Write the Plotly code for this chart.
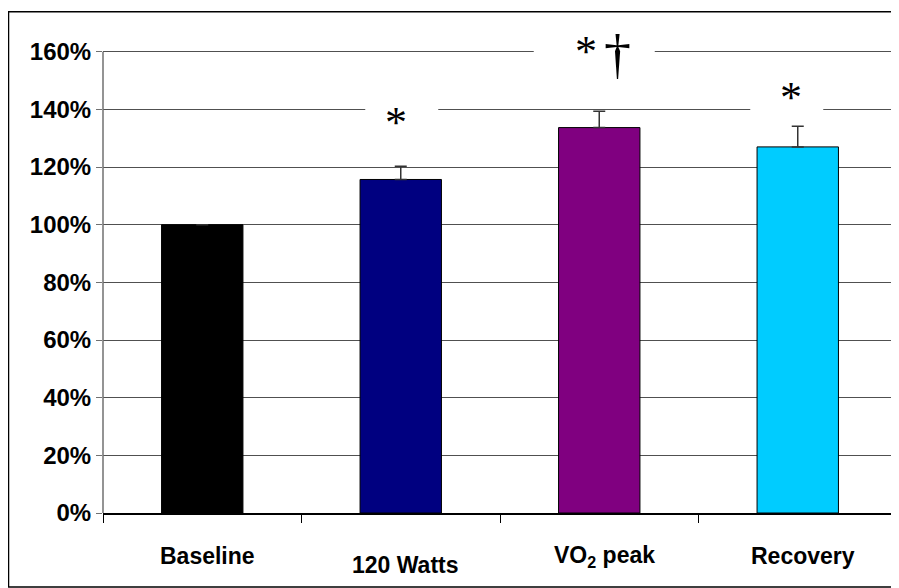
import plotly.graph_objects as go

categories = ["Baseline", "120 Watts", "VO2 peak", "Recovery"]
category_labels = ["Baseline", "120 Watts", "VO<sub>2</sub> peak", "Recovery"]
values = [100.0, 115.7, 133.7, 127.0]
errors_plus = [None, 4.6, 5.7, 7.2]
bar_colors = ["#000000", "#000080", "#800080", "#00CCFF"]
y_ticks = [0, 20, 40, 60, 80, 100, 120, 140, 160]
y_tick_labels = [f"{v}%" for v in y_ticks]
# significance markers: (category, text, level %, font size, x offset px)
sig_marks = [
    ("120 Watts", "*", 135.6, 44, -5),
    ("VO2 peak", "*", 160.0, 44, -13),
    ("VO2 peak", "†", 158.9, 54, 18),
    ("Recovery", "*", 144.2, 44, -7),
]
# white gaps cut into gridlines behind the markers: (category, level %, width px, x offset px)
gap_boxes = [
    ("120 Watts", 140, 73, 1),
    ("VO2 peak", 160, 121, -5),
    ("Recovery", 140, 73, -11),
]

W, H = 891, 580  # page body adds an 8px offset
Y_TOP = 160          # top gridline
Y_RANGE_MAX = 162    # a little headroom so the top gridline is drawn
PX_PER_UNIT = 461 / Y_TOP
B_MARGIN = 75
T_MARGIN = H - B_MARGIN - PX_PER_UNIT * Y_RANGE_MAX
ANCHOR = 150  # annotations anchored inside the range, then shifted in pixels

fig = go.Figure()
fig.add_trace(go.Bar(
    x=categories, y=values,
    marker=dict(color=bar_colors, line=dict(color="#000000", width=1)),
    width=0.41,
    error_y=dict(type="data", symmetric=False, array=errors_plus,
                 arrayminus=[0, 0, 0, 0], color="#333333", thickness=1.5, width=6),
    showlegend=False,
))

annotations = []
for cat, lab in zip(categories, category_labels):
    shift = -52 if cat == "120 Watts" else -43
    annotations.append(dict(
        x=cat, xref="x", y=0, yref="paper", yanchor="middle", yshift=shift, xshift=5,
        text=f"<b>{lab}</b>", showarrow=False,
        font=dict(family="Liberation Sans, Arial", size=23, color="#000000"),
    ))

for cat, txt, lvl, fs, xs in sig_marks:
    annotations.append(dict(
        x=cat, xref="x", y=ANCHOR, yref="y", yanchor="middle", xshift=xs,
        yshift=(lvl - ANCHOR) * PX_PER_UNIT,
        text=txt, showarrow=False,
        font=dict(family="Liberation Serif, Times New Roman", size=fs, color="#000000"),
    ))

plot_h = H - B_MARGIN - T_MARGIN
border_top_px = 4      # figure px from top
border_bottom_px = 579
shapes = [dict(type="rect", xref="paper", yref="paper",
               x0=-0.119, x1=1.006,
               y0=(H - B_MARGIN - border_bottom_px) / plot_h,
               y1=(H - B_MARGIN - border_top_px) / plot_h,
               line=dict(color="#000000", width=1.5), fillcolor="rgba(0,0,0,0)",
               layer="above")]
for cat, lvl, bw, xs in gap_boxes:
    shapes.append(dict(
        type="rect", xref="x", yref="y",
        xsizemode="pixel", xanchor=cat, x0=xs - bw / 2, x1=xs + bw / 2,
        ysizemode="pixel", yanchor=lvl, y0=-11, y1=11,
        line=dict(width=0), fillcolor="#FFFFFF", layer="above",
    ))

fig.update_layout(
    width=W, height=H,
    margin=dict(l=95, r=2, t=T_MARGIN, b=B_MARGIN, autoexpand=False),
    paper_bgcolor="#FFFFFF", plot_bgcolor="#FFFFFF",
    annotations=annotations,
    shapes=shapes,
)
fig.update_xaxes(
    type="category", showticklabels=False, tickson="boundaries", automargin=False,
    ticks="outside", ticklen=8, tickcolor="#000000", tickwidth=1,
    showline=True, linecolor="#000000", linewidth=1.5, showgrid=False,
)
fig.update_yaxes(
    range=[0, Y_RANGE_MAX], tickmode="array", tickvals=y_ticks, ticktext=y_tick_labels,
    automargin=False,
    ticks="outside", ticklen=6, tickcolor="#707070",
    showline=False, zeroline=False,
    showgrid=True, gridcolor="#505050", gridwidth=1,
    tickfont=dict(family="Liberation Sans, Arial", size=24, color="#000000", weight="bold"),
    ticklabelstandoff=0,
)
# left and right plot-area edges from 0% to 160%, drawn in the axis scale
fig.add_shape(type="line", xref="paper", yref="y", x0=0, x1=0, y0=0, y1=Y_TOP,
              line=dict(color="#707070", width=1.5))
fig.add_shape(type="line", xref="paper", yref="y", x0=1, x1=1, y0=0, y1=Y_TOP,
              line=dict(color="#909090", width=1.5))

fig.write_html("out.html")
